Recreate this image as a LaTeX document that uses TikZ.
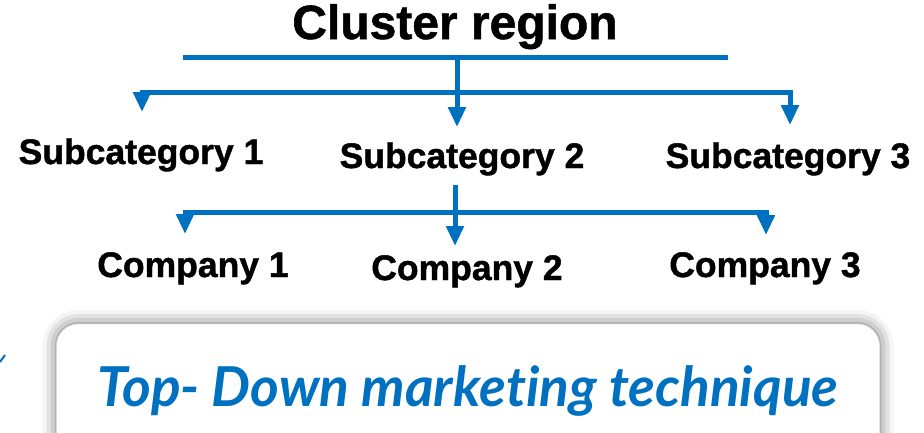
\documentclass[tikz,border=0pt]{standalone}
\usepackage{fontspec}
\setmainfont{Liberation Sans}[BoldFeatures={FakeBold=1.2}]
\newfontfamily\mottofont{Lato}[Ligatures=NoCommon]
\usetikzlibrary{arrows.meta,shadows.blur}
\definecolor{treeblue}{HTML}{0070C0}
\tikzset{
  level/.style={font=\bfseries\fontsize{35.5}{40}\selectfont, inner sep=0pt, anchor=base},
  bar/.style={treeblue, line width=5pt},
  arrow/.style={treeblue, line width=5pt, -{Triangle[width=17pt,length=20pt]}},
  banner/.style={fill=white, draw=black!10, rounded corners=22pt, minimum width=823pt, minimum height=134pt,
    blur shadow={shadow xshift=0pt, shadow yshift=0pt, shadow blur radius=14pt, shadow opacity=60},
    text=treeblue, font=\mottofont\bfseries\itshape\fontsize{55}{60}\selectfont}
}
\begin{document}
\begin{tikzpicture}[yscale=-1]
  \begin{scope}[x=1pt,y=1pt]
    \useasboundingbox (0,0) rectangle (924,432);
    \node[font=\bfseries\fontsize{48}{54}\selectfont, inner sep=0pt, anchor=base] (cluster) at (455,39) {Cluster region};
    \coordinate (barL) at (183,57);
    \coordinate (barR) at (728,57);
    \coordinate (hub) at (457,57);
    \coordinate (forkA) at (457,92);
    \draw[bar] (barL) -- (barR);
    \node[level] (sub1) at (141,164) {Subcategory 1};
    \node[level] (sub2) at (462,168) {Subcategory 2};
    \node[level] (sub3) at (788,168) {Subcategory 3};
    \draw[arrow, shorten >=15pt] (hub) -- (hub |- sub2.north);
    \draw[arrow, shorten >=26pt] (forkA) -| ([xshift=1pt]sub1.north);
    \draw[arrow, shorten >=17pt] (forkA) -| ([xshift=2pt]sub3.north);
    \node[level] (comp1) at (193,277) {Company 1};
    \node[level] (comp2) at (467,280) {Company 2};
    \node[level] (comp3) at (765,277) {Company 3};
    \coordinate (forkB) at (455,212);
    \draw[arrow, shorten <=9pt, shorten >=9pt] (sub2.south -| forkB) -- (forkB |- comp2.north);
    \draw[arrow, shorten >=18pt] (forkB) -| ([xshift=-8pt]comp1.north);
    \draw[arrow, shorten >=17pt] (forkB) -| ([xshift=1pt]comp3.north);
    \node[banner] (motto) at (468,391) {Top- Down marketing technique};
    \draw[treeblue, line width=2pt] (0,362) -- (5,355);
  \end{scope}
\end{tikzpicture}
\end{document}
